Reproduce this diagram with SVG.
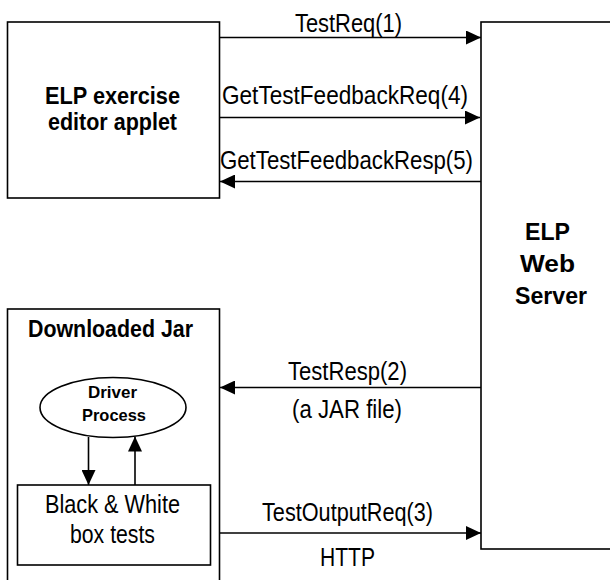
<svg xmlns="http://www.w3.org/2000/svg" width="610" height="580" viewBox="0 0 610 580">
<style>
.box{fill:#fff;stroke:#000;stroke-width:1.6}
.ln{fill:none;stroke:#000;stroke-width:1.6}
.t{font-family:"Liberation Sans",Arial,sans-serif;font-size:25.5px;fill:#000;text-anchor:middle}
.b{font-family:"Liberation Sans",Arial,sans-serif;font-size:23.5px;font-weight:bold;fill:#000;text-anchor:middle}
.s{font-family:"Liberation Sans",Arial,sans-serif;font-size:17px;font-weight:bold;fill:#000;text-anchor:middle}
</style>
<defs>
<marker id="ah" viewBox="0 0 15 14" refX="15" refY="7" markerWidth="15" markerHeight="14" markerUnits="userSpaceOnUse" orient="auto">
<path d="M0,0 L15,7 L0,14 Z" fill="#000"/>
</marker>
</defs>
<rect width="610" height="580" fill="#fff"/>
<g id="applet">
<rect class="box" x="7.5" y="22" width="212" height="176"/>
<text class="b" x="112.5" y="104" textLength="135" lengthAdjust="spacingAndGlyphs">ELP exercise</text>
<text class="b" x="112.5" y="130" textLength="129" lengthAdjust="spacingAndGlyphs">editor applet</text>
</g>
<g id="server">
<rect class="box" x="481" y="22" width="140" height="527"/>
<text class="b" x="547.5" y="240" textLength="45" lengthAdjust="spacingAndGlyphs">ELP</text>
<text class="b" x="547.5" y="272" textLength="55" lengthAdjust="spacingAndGlyphs">Web</text>
<text class="b" x="551" y="304" textLength="72" lengthAdjust="spacingAndGlyphs">Server</text>
</g>
<g id="jar">
<rect class="box" x="7.5" y="309" width="212" height="285"/>
<text class="b" x="110.5" y="337" textLength="165" lengthAdjust="spacingAndGlyphs">Downloaded Jar</text>
</g>
<g id="driver">
<ellipse class="box" cx="113" cy="407.5" rx="73" ry="30"/>
<text class="s" x="112.5" y="398" textLength="49" lengthAdjust="spacingAndGlyphs">Driver</text>
<text class="s" x="114" y="421" textLength="64" lengthAdjust="spacingAndGlyphs">Process</text>
</g>
<g id="tests">
<rect class="box" x="17.5" y="485" width="193" height="80"/>
<text class="t" x="112.5" y="513" textLength="135" lengthAdjust="spacingAndGlyphs">Black &amp; White</text>
<text class="t" x="112.5" y="543" textLength="85" lengthAdjust="spacingAndGlyphs">box tests</text>
</g>
<g id="connectors">
<line class="ln" x1="219.5" y1="37.5" x2="481" y2="37.5" marker-end="url(#ah)"/>
<line class="ln" x1="219.5" y1="117.5" x2="480" y2="117.5" marker-end="url(#ah)"/>
<line class="ln" x1="481" y1="181.5" x2="220" y2="181.5" marker-end="url(#ah)"/>
<line class="ln" x1="481" y1="387.5" x2="220" y2="387.5" marker-end="url(#ah)"/>
<line class="ln" x1="219.5" y1="533" x2="481" y2="533" marker-end="url(#ah)"/>
<line class="ln" x1="88.5" y1="437" x2="88.5" y2="485" marker-end="url(#ah)"/>
<line class="ln" x1="135" y1="485" x2="135" y2="436.5" marker-end="url(#ah)"/>
<text class="t" x="348.5" y="32" textLength="107" lengthAdjust="spacingAndGlyphs">TestReq(1)</text>
<text class="t" x="345" y="104" textLength="246" lengthAdjust="spacingAndGlyphs">GetTestFeedbackReq(4)</text>
<text class="t" x="346.5" y="169" textLength="253" lengthAdjust="spacingAndGlyphs">GetTestFeedbackResp(5)</text>
<text class="t" x="347.5" y="380" textLength="119" lengthAdjust="spacingAndGlyphs">TestResp(2)</text>
<text class="t" x="347" y="418" textLength="110" lengthAdjust="spacingAndGlyphs">(a JAR file)</text>
<text class="t" x="347.5" y="521" textLength="171" lengthAdjust="spacingAndGlyphs">TestOutputReq(3)</text>
<text class="t" x="347.5" y="566" textLength="55" lengthAdjust="spacingAndGlyphs">HTTP</text>
</g>
</svg>
